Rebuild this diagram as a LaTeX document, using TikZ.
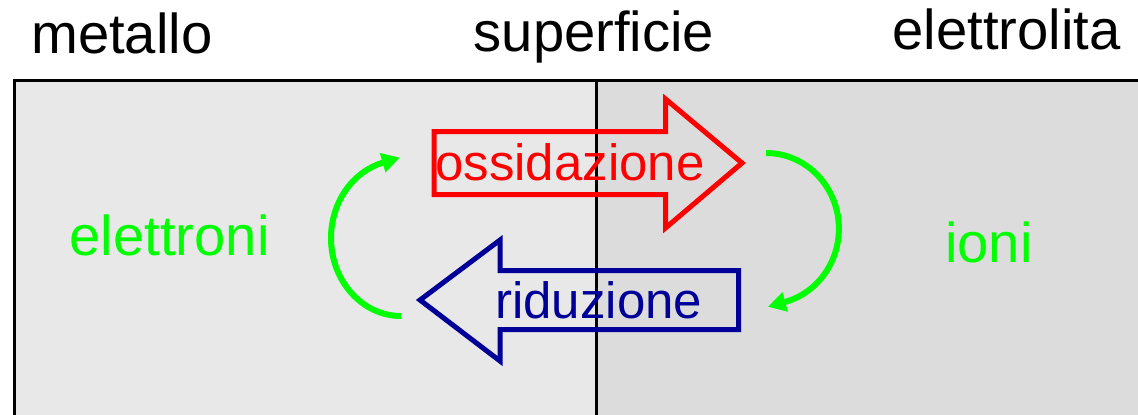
\documentclass[tikz,border=0pt]{standalone}
\usepackage{fontspec}
\setmainfont{Liberation Sans}
\usetikzlibrary{arrows.meta}
\definecolor{lgray}{HTML}{E8E8E8}
\definecolor{rgray}{HTML}{DCDCDC}
\definecolor{gre}{HTML}{00FF00}
\definecolor{dblue}{HTML}{000099}
\begin{document}
\begin{tikzpicture}[x=1pt,y=-1pt,
  lbl/.style={inner sep=0pt, anchor=base west, font=\fontsize{56.2}{60}\selectfont},
  albl/.style={inner sep=0pt, anchor=base west, font=\fontsize{51}{56}\selectfont},
  bigarrow/.style={line width=5pt, line join=miter, miter limit=10},
  cyc/.style={draw=gre, line width=6pt, -{Triangle[length=18pt,width=19pt]}},
  zone/.style={draw=black, line width=3pt}]
\useasboundingbox (0,0) rectangle (1138,415);
\clip (0,0) rectangle (1138,415);
\fill[white] (0,0) rectangle (1138,415);
% zones
\draw[zone, fill=lgray] (14,80) rectangle (596,440);
\draw[zone, fill=rgray] (596,80) rectangle (1160,440);
% headers
\node[lbl] (metallo) at (31,53) {metallo};
\node[lbl] (superficie) at (473.5,51) {superficie};
\node[lbl] (elettrolita) at (892.5,49.5) {elettrolita};
% big arrows
\draw[red, bigarrow] (434,131.5) -- (665.5,131.5) -- (665.5,99) -- (742,163) -- (665.5,228) -- (665.5,194.5) -- (434,194.5) -- cycle;
\draw[dblue, bigarrow] (738.5,270.5) -- (500,270.5) -- (500,240) -- (420,300) -- (500,361) -- (500,329.5) -- (738.5,329.5) -- cycle;
\node[albl, text=red] (ox) at (435,180) {ossidazione};
\node[albl, text=dblue] (rid) at (495,318) {riduzione};
% species
\node[lbl, text=gre] (elettroni) at (69.5,255) {elettroni};
\node[lbl, text=gre] (ioni) at (945,262) {ioni};
% cycle arcs
\coordinate (lstart) at (401,316);
\coordinate (rstart) at (766,153);
\draw[cyc] (lstart) arc[start angle=90, end angle=255, x radius=70, y radius=78] -- ++(17,-5);
\draw[cyc] (rstart) arc[start angle=270, end angle=435, x radius=72.9, y radius=75.8] -- ++(-17,4.7);
\end{tikzpicture}
\end{document}
